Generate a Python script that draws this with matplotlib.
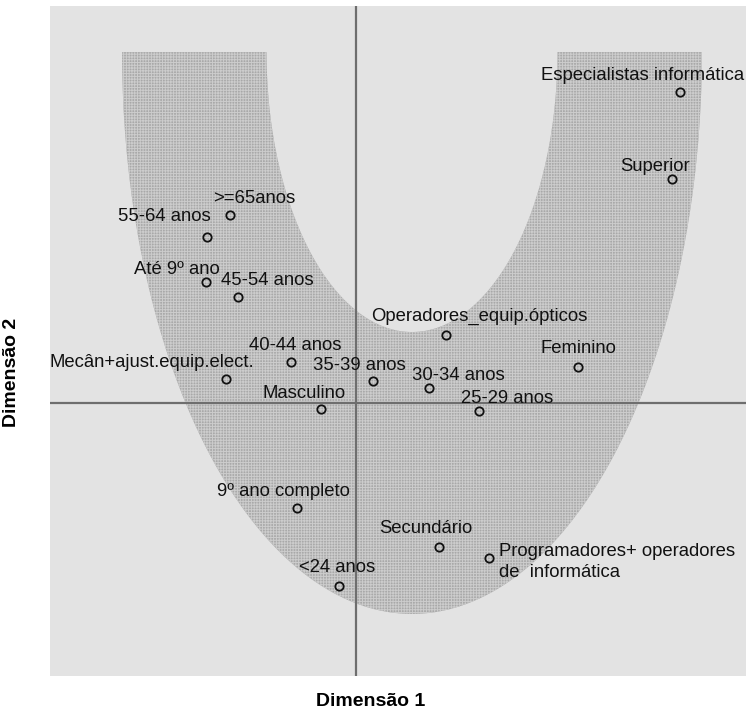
import numpy as np
import matplotlib
matplotlib.use("Agg")
import matplotlib.pyplot as plt
from matplotlib.patches import Polygon

plt.rcParams['font.family'] = ['Liberation Sans', 'DejaVu Sans']
plt.rcParams['hatch.linewidth'] = 0.7

# category coordinates on the two dimensions
labels = ['Especialistas informática', 'Superior', '>=65anos', '55-64 anos',
          'Até 9º ano', '45-54 anos', 'Operadores_equip.ópticos', '40-44 anos',
          'Feminino', 'Mecân+ajust.equip.elect.', '35-39 anos', '30-34 anos',
          'Masculino', '25-29 anos', '9º ano completo', 'Secundário',
          'Programadores+ operadores\nde  informática', '<24 anos']
dim1 = [2.314, 2.257, -0.900, -1.064, -1.071, -0.843, 0.643, -0.464, 1.586,
        -0.929, 0.121, 0.521, -0.250, 0.879, -0.421, 0.593, 0.950, -0.121]
dim2 = [2.221, 1.600, 1.343, 1.186, 0.864, 0.757, 0.486, 0.293, 0.257,
        0.171, 0.157, 0.107, -0.043, -0.057, -0.750, -1.029, -1.107, -1.307]
# label offsets in points (dx, dy) from each point
offsets = [(-100, 12), (-37, 9), (-12, 12), (-64, 15), (-52, 9), (-12, 12),
           (-54, 13), (-30, 12), (-27, 13), (-127, 12), (-43, 11), (-12, 9),
           (-42, 11), (-13, 9), (-58, 12), (-43, 13), (7, -3), (-29, 13)]

# U-shaped band: outer and inner half-ellipses (centre x, centre y, a, b)
outer = (0.40, 2.507, 2.071, 4.014)
inner = (0.40, 2.507, 1.039, 2.000)

fig = plt.figure(figsize=(7.46, 7.10), dpi=100)
ax = fig.add_axes([0.067, 0.048, 0.933, 0.9435])
ax.set_facecolor('#e3e3e3')

t = np.linspace(np.pi, 2 * np.pi, 300)
ox = outer[0] + outer[2] * np.cos(t)
oy = outer[1] + outer[3] * np.sin(t)
ix = inner[0] + inner[2] * np.cos(t[::-1])
iy = inner[1] + inner[3] * np.sin(t[::-1])
band = Polygon(np.column_stack([np.r_[ox, ix], np.r_[oy, iy]]), closed=True,
               facecolor='#a9a9a9', edgecolor='#cccccc', hatch='++++++', lw=0)
ax.add_patch(band)

ax.axhline(0, color='#6e6e6e', lw=1.6, zorder=2)
ax.axvline(0, color='#6e6e6e', lw=1.6, zorder=2)

ax.plot(dim1, dim2, 'o', ms=6, mfc='none', mec='#111111', mew=1.3, zorder=3)
for x, y, s, (dx, dy) in zip(dim1, dim2, labels, offsets):
    ax.annotate(s, (x, y), xytext=(dx, dy), textcoords='offset points',
                fontsize=13.3, color='#111111', va='center', ha='left',
                linespacing=1.25, zorder=4)

ax.set_xlim(-2.186, 2.786)
ax.set_ylim(-1.95, 2.836)
ax.set_xticks([])
ax.set_yticks([])
for sp in ax.spines.values():
    sp.set_visible(False)

ax.set_xlabel('Dimensão 1', fontsize=14, fontweight='bold')
ax.set_ylabel('Dimensão 2', fontsize=14, fontweight='bold')
ax.xaxis.set_label_coords(0.46, -0.025)
ax.yaxis.set_label_coords(-0.043, 0.453)

fig.savefig('out.png', dpi=100)
